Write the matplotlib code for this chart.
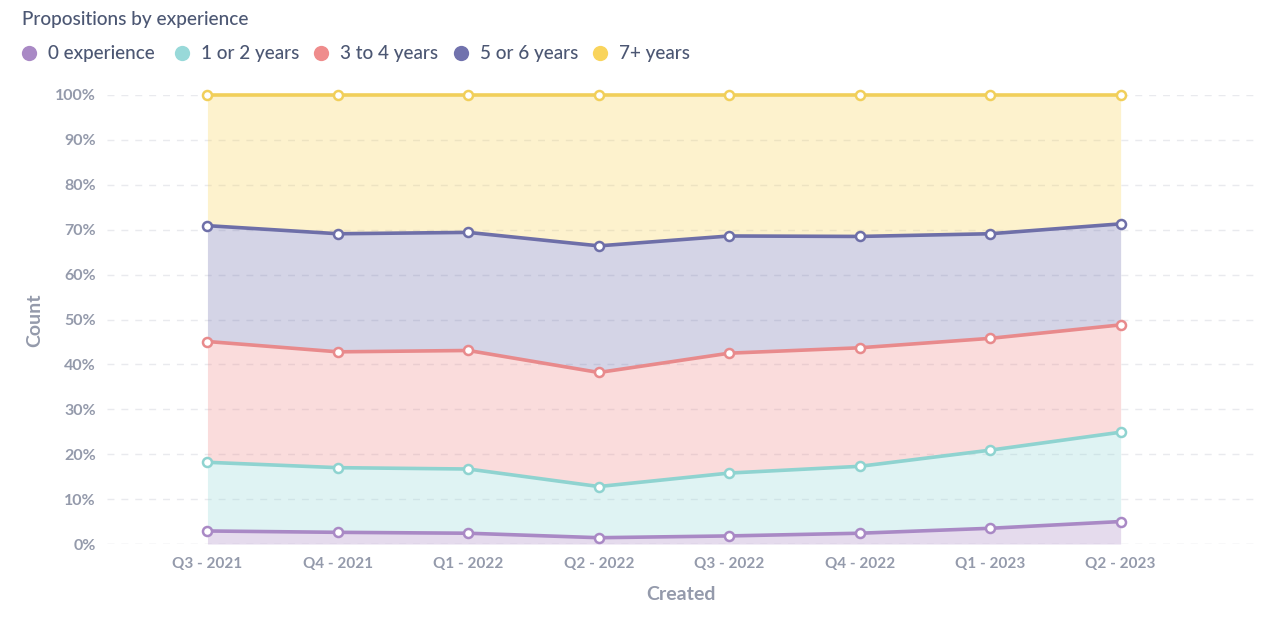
import numpy as np
import matplotlib
matplotlib.use("Agg")
import matplotlib.pyplot as plt
from matplotlib.lines import Line2D

plt.rcParams['font.family'] = ['Lato', 'DejaVu Sans']

quarters = ["Q3 - 2021", "Q4 - 2021", "Q1 - 2022", "Q2 - 2022",
            "Q3 - 2022", "Q4 - 2022", "Q1 - 2023", "Q2 - 2023"]
series_names = ["0 experience", "1 or 2 years", "3 to 4 years", "5 or 6 years", "7+ years"]
# share of each group in percent per quarter
exp_0 = [2.9, 2.6, 2.4, 1.4, 1.8, 2.4, 3.5, 5.0]
exp_1_2 = [15.3, 14.4, 14.3, 11.4, 14.0, 14.9, 17.4, 19.9]
exp_3_4 = [26.9, 25.8, 26.4, 25.4, 26.7, 26.4, 24.9, 23.9]
exp_5_6 = [25.8, 26.3, 26.3, 28.2, 26.1, 24.8, 23.3, 22.5]
exp_7p = [29.1, 30.9, 30.6, 33.6, 31.4, 31.5, 30.9, 28.7]
y_ticks = [0, 10, 20, 30, 40, 50, 60, 70, 80, 90, 100]

colors = ["#A989C5", "#98D9D9", "#EF8C8C", "#7172AD", "#F9D45C"]
line_colors = ["#A989C5", "#8FD3D0", "#E88A8C", "#6E6FA8", "#F1CF5A"]

fig = plt.figure(figsize=(12.8, 6.17), dpi=100)
ax = fig.add_axes([107/1280, 1-544/617, (1255-107)/1280, 449/617])

data = np.array([exp_0, exp_1_2, exp_3_4, exp_5_6, exp_7p], dtype=float)
totals = data.sum(axis=0)
pct = data / totals * 100
cum = np.cumsum(pct, axis=0)
x = np.arange(len(quarters))

lower = np.zeros(len(quarters))
for i in range(len(series_names)):
    ax.fill_between(x, lower, cum[i], color=colors[i], alpha=0.3, lw=0, zorder=1)
    lower = cum[i]
for i in range(len(series_names)):
    ax.plot(x, cum[i], color=line_colors[i], lw=2.6, zorder=3 + i, clip_on=False,
            marker='o', markersize=6.5, markerfacecolor='white',
            markeredgecolor=line_colors[i], markeredgewidth=1.8, solid_capstyle='round')

ax.set_xlim(-0.77, 8.03)
ax.set_ylim(0, 100)
ax.set_yticks(y_ticks)
ax.set_yticklabels([f"{t}%" for t in y_ticks], fontsize=11.5)
ax.set_xticks(x)
ax.set_xticklabels(quarters, fontsize=11)

for t in y_ticks:
    ax.axhline(t, color="#E9EAEE" if t else "#DCDEE3", lw=1, ls=(0, (5, 5)), zorder=0.5)

for s in ax.spines.values():
    s.set_visible(False)
ax.tick_params(axis='both', length=0, labelcolor="#949AAB")
ax.tick_params(axis='y', pad=8)
ax.tick_params(axis='x', pad=9.5)
for lab in ax.get_xticklabels() + ax.get_yticklabels():
    lab.set_fontweight('bold')

fig.text(35/1280, 1-320/617, "Count", rotation=90, ha='center', va='center',
         fontsize=14, fontweight='bold', color="#949AAB")
fig.text(681/1280, 1-594/617, "Created", ha='center', va='center',
         fontsize=14, fontweight='bold', color="#949AAB")

fig.text(22/1280, 1-20/617, "Propositions by experience", ha='left', va='center',
         fontsize=13.7, fontweight='medium', color="#4C5773")

legend_x = [29, 182, 321, 461, 600]
for i, name in enumerate(series_names):
    fig.add_artist(Line2D([legend_x[i]/1280], [1-53/617], marker='o', markersize=11,
                          color=colors[i], markeredgewidth=0, transform=fig.transFigure))
    fig.text((legend_x[i]+19)/1280, 1-53/617, name, ha='left', va='center',
             fontsize=13.6, fontweight='medium', color="#4C5773")

fig.savefig("out.png", dpi=100)
